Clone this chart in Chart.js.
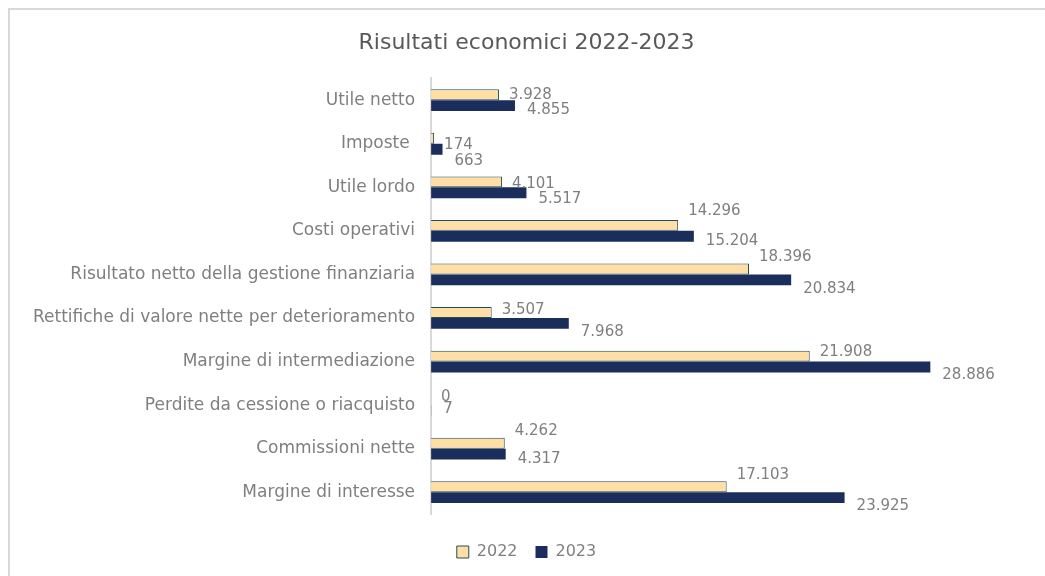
<!DOCTYPE html>
<html>
<head>
<meta charset="utf-8">
<script src="https://cdn.jsdelivr.net/npm/chart.js@4/dist/chart.umd.min.js"></script>
<style>
    html, body { margin: 0; padding: 0; background: #fff; }
    #wrap { position: relative; width: 1045px; height: 576px; overflow: hidden; }
    #frame { position: absolute; left: 8px; top: 8px; width: 1100px; height: 600px;
             border-top: 2px solid #d9d9d9; border-left: 2px solid #d9d9d9; }
    #c { position: absolute; left: 0; top: 0; }
</style>
</head>
<body>
<div id="wrap">
    <div id="frame"></div>
    <canvas id="c" width="1045" height="576"></canvas>
</div>
<script>
const categories = [
    'Utile netto',
    'Imposte ',
    'Utile lordo',
    'Costi operativi',
    'Risultato netto della gestione finanziaria',
    'Rettifiche di valore nette per deterioramento',
    'Margine di intermediazione',
    'Perdite da cessione o riacquisto',
    'Commissioni nette',
    'Margine di interesse'
];
const values2022 = [3928, 174, 4101, 14296, 18396, 3507, 21908, 0, 4262, 17103];
const values2023 = [4855, 663, 5517, 15204, 20834, 7968, 28886, 7, 4317, 23925];

// vertical shift of the value labels (Excel moved them to avoid overlaps)
const labelShift2022 = [0, 7, 2, -14, -12, -2, -4, -3, -12, -12];
const labelShift2023 = [4, 12, 6, 5, 9, 9, 8, -1, 5, 8];

const FONT = "'DejaVu Sans', sans-serif";

function fmt(n) {
    return String(n).replace(/\B(?=(\d{3})+(?!\d))/g, '.');
}

const valueLabels = {
    id: 'valueLabels',
    afterDatasetsDraw(chart) {
        const ctx = chart.ctx;
        ctx.save();
        ctx.font = '15px ' + FONT;
        ctx.fillStyle = '#7f7f7f';
        ctx.textAlign = 'left';
        ctx.textBaseline = 'middle';
        chart.data.datasets.forEach((ds, di) => {
            const shifts = di === 0 ? labelShift2022 : labelShift2023;
            const gap = di === 0 ? 10 : 12;
            chart.getDatasetMeta(di).data.forEach((bar, i) => {
                ctx.fillText(fmt(ds.data[i]), bar.x + gap, bar.y + shifts[i]);
            });
        });
        ctx.restore();
    }
};

new Chart(document.getElementById('c').getContext('2d'), {
    type: 'bar',
    data: {
        labels: categories,
        datasets: [{
            label: '2022',
            data: values2022,
            backgroundColor: '#FFDFA6',
            borderColor: '#1F4E5A',
            borderWidth: 1,
            categoryPercentage: 0.5,
            barPercentage: 1.0
        }, {
            label: '2023',
            data: values2023,
            backgroundColor: '#1B2D5A',
            borderColor: '#1B2D5A',
            borderWidth: 0,
            categoryPercentage: 0.5,
            barPercentage: 1.0
        }]
    },
    options: {
        indexAxis: 'y',
        responsive: false,
        animation: false,
        layout: { padding: { left: 17, right: 9, top: 10, bottom: 6 } },
        scales: {
            x: {
                min: 0,
                max: 35000,
                grid: { display: false },
                border: { display: false },
                ticks: { display: false },
                afterFit(scale) { scale.height = 12; }
            },
            y: {
                grid: { display: false, drawTicks: false },
                border: { color: '#d9d9d9', width: 2 },
                ticks: {
                    color: '#7f7f7f',
                    padding: 16,
                    font: { family: FONT, size: 17 }
                }
            }
        },
        plugins: {
            title: {
                display: true,
                text: 'Risultati economici 2022-2023',
                color: '#595959',
                font: { family: FONT, size: 22, weight: 'normal' },
                padding: { top: 20, bottom: 22 }
            },
            legend: {
                position: 'bottom',
                labels: {
                    color: '#7f7f7f',
                    boxWidth: 12,
                    boxHeight: 12,
                    padding: 18,
                    font: { family: FONT, size: 16 }
                }
            },
            tooltip: { enabled: false }
        }
    },
    plugins: [valueLabels]
});
</script>
</body>
</html>
